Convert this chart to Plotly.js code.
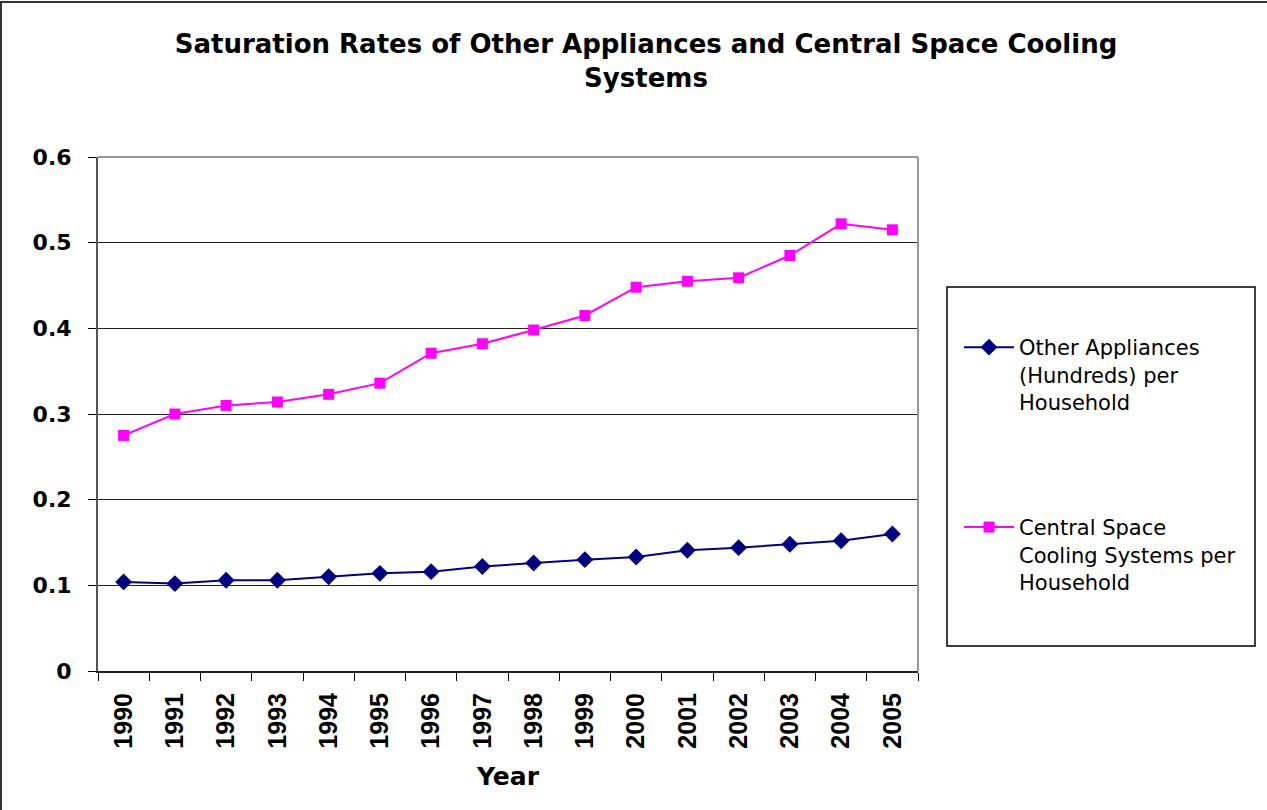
<!DOCTYPE html>
<html>
<head>
<meta charset="utf-8">
<script src="https://cdn.plot.ly/plotly-3.0.1.min.js"></script>
<style>
  html, body { margin: 0; padding: 0; background: #fff; }
  #chart { width: 1267px; height: 810px; }
</style>
</head>
<body>
<div id="chart"></div>
<script>
const years = ['1990','1991','1992','1993','1994','1995','1996','1997','1998','1999','2000','2001','2002','2003','2004','2005'];
const otherAppliances = [0.104, 0.102, 0.106, 0.106, 0.110, 0.114, 0.116, 0.122, 0.126, 0.130, 0.133, 0.141, 0.144, 0.148, 0.152, 0.160];
const centralCooling = [0.275, 0.300, 0.310, 0.314, 0.323, 0.336, 0.371, 0.382, 0.398, 0.415, 0.448, 0.455, 0.459, 0.485, 0.522, 0.515];
const seriesNames = ['Other Appliances<br>(Hundreds) per<br>Household', 'Central Space<br>Cooling Systems per<br>Household'];
const titleText = 'Saturation Rates of Other Appliances and Central Space Cooling<br>Systems';
const xTitle = 'Year';

const L = 98, R = 918, T = 157, B = 671, W = 1267, H = 810;
const px = x => (x - L) / (R - L);
const py = y => (B - y) / (B - T);

const traces = [
  {
    x: years, y: otherAppliances, name: seriesNames[0], type: 'scatter', mode: 'lines+markers',
    legendgroup: 'a',
    line: { color: '#000080', width: 2 },
    marker: { symbol: 'diamond', size: 13, color: '#000080' }
  },
  {
    x: years, y: centralCooling, name: seriesNames[1], type: 'scatter', mode: 'lines+markers',
    legendgroup: 'b',
    line: { color: '#FF00FF', width: 2 },
    marker: { symbol: 'square', size: 11, color: '#FF00FF' }
  }
];

const layout = {
  width: W, height: H,
  margin: { l: L, r: W - R, t: T, b: H - B, pad: 0 },
  paper_bgcolor: '#ffffff', plot_bgcolor: '#ffffff',
  showlegend: true,
  title: {
    text: titleText,
    font: { family: 'DejaVu Sans', size: 26, color: '#000', weight: 'bold' },
    x: 646 / W, xanchor: 'center',
    y: 1 - 53 / H, yanchor: 'top', yref: 'container'
  },
  xaxis: {
    type: 'category',
    range: [-0.5, 15.5],
    tickson: 'boundaries',
    ticks: 'outside', ticklen: 8, tickwidth: 1, tickcolor: '#000',
    tickangle: -90,
    tickfont: { family: 'Liberation Sans, Arial', size: 25, color: '#000', weight: 'bold' },
    ticklabelstandoff: 10,
    showline: true, linecolor: '#222', linewidth: 2,
    showgrid: false, zeroline: false,
    title: { text: xTitle, font: { family: 'DejaVu Sans', size: 25, color: '#000', weight: 'bold' }, standoff: 20 }
  },
  yaxis: {
    range: [0, 0.6], dtick: 0.1, tick0: 0,
    ticks: 'outside', ticklen: 8, tickwidth: 1, tickcolor: '#000',
    tickfont: { family: 'DejaVu Sans', size: 22, color: '#000', weight: 'bold' },
    ticklabelstandoff: 12,
    showline: true, linecolor: '#555', linewidth: 2,
    showgrid: true, gridcolor: '#222', gridwidth: 1,
    zeroline: false
  },
  legend: {
    x: px(959), xanchor: 'left',
    y: py(327), yanchor: 'top',
    bgcolor: 'rgba(0,0,0,0)', borderwidth: 0,
    font: { family: 'DejaVu Sans', size: 21, color: '#000' },
    traceorder: 'grouped', tracegroupgap: 95,
    valign: 'top', itemwidth: 50
  },
  shapes: [
    { type: 'rect', xref: 'paper', yref: 'paper', x0: px(947), x1: px(1255), y0: py(646), y1: py(287),
      line: { color: '#000', width: 1.5 }, fillcolor: 'rgba(0,0,0,0)' },
    { type: 'line', xref: 'paper', yref: 'paper', x0: 0, x1: 1, y0: 1, y1: 1, line: { color: '#999', width: 2 } },
    { type: 'line', xref: 'paper', yref: 'paper', x0: 1, x1: 1, y0: 0, y1: 1, line: { color: '#999', width: 2 } },
    { type: 'line', xref: 'paper', yref: 'paper', x0: px(0), x1: px(W), y0: py(2), y1: py(2), line: { color: '#333', width: 2 } },
    { type: 'line', xref: 'paper', yref: 'paper', x0: px(1), x1: px(1), y0: py(2), y1: py(H), line: { color: '#333', width: 2 } }
  ]
};

Plotly.newPlot('chart', traces, layout, { displayModeBar: false, staticPlot: true });
</script>
</body>
</html>
